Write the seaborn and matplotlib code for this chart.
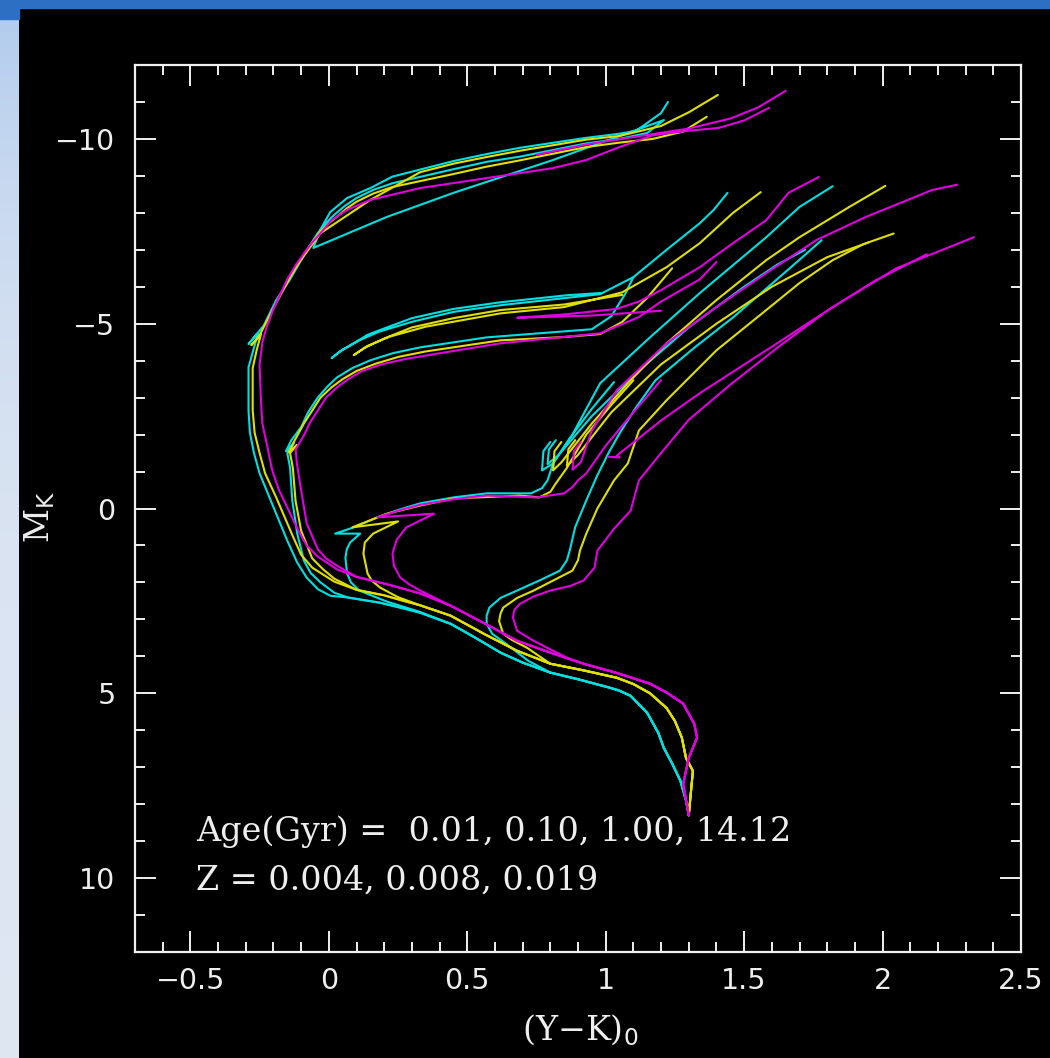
import numpy as np
import pandas as pd
import matplotlib
matplotlib.use("Agg")
import matplotlib.pyplot as plt
import matplotlib.ticker as mticker
from matplotlib.patches import Rectangle
import seaborn as sns

nan = np.nan

METALS = ["0.004", "0.008", "0.019"]
LINE_COLORS = ["#00e0e0", "#e0e000", "#e000e0"]
AGE_TEXT = "Age(Gyr) =  0.01, 0.10, 1.00, 14.12"
Z_TEXT = "Z = 0.004, 0.008, 0.019"

# ---- lower main sequence, common to every age ----
MS_YK_Z004 = [1.30, 1.29, 1.27, 1.24, 1.21, 1.19, 1.15, 1.09, 1.05, 1.015, 0.90, 0.80]
MS_MK_Z004 = [8.30, 7.90, 7.37, 6.90, 6.48, 6.07, 5.53, 5.07, 4.93, 4.85, 4.62, 4.44]
MS_YK_Z008 = [1.30, 1.315, 1.29, 1.275, 1.25, 1.22, 1.16, 1.10, 1.04, 0.92, 0.80]
MS_MK_Z008 = [8.30, 7.10, 6.75, 6.20, 5.75, 5.40, 5.00, 4.75, 4.58, 4.38, 4.20]
MS_YK_Z019 = [1.30, 1.28, 1.30, 1.33, 1.32, 1.28, 1.22, 1.16, 1.04, 0.92]
MS_MK_Z019 = [8.30, 7.45, 6.75, 6.20, 5.83, 5.28, 4.98, 4.74, 4.45, 4.20]

# ---- upper main sequence for the three younger ages ----
MSU_YK_Z004 = [0.70, 0.62, 0.53, 0.44]
MSU_MK_Z004 = [4.17, 3.90, 3.50, 3.12]
MSU_YK_Z008 = [0.68, 0.56, 0.44]
MSU_MK_Z008 = [3.85, 3.39, 2.90]
MSU_YK_Z019 = [0.80, 0.68, 0.56, 0.44]
MSU_MK_Z019 = [3.90, 3.58, 3.10, 2.63]

# ---- 0.01 Gyr ----
YK_A001_Z004 = [0.38, 0.33, 0.26, 0.185, 0.12, 0.07, 0.005, -0.04, -0.08, -0.115, -0.15, -0.21, -0.25, -0.27, -0.285,
                -0.29, -0.29, -0.27, -0.255, -0.29, -0.265, -0.235, -0.19, -0.14, -0.10, -0.07, -0.04, -0.01, 0.02,
                0.06, 0.10, 0.16, 0.23, 0.45, 0.57, 0.69, 0.93, 1.05, 1.15, 1.21,
                0.81, 0.45, 0.21, -0.056, -0.03, 0.005, 0.066, 0.15, 0.23, 0.45, 0.57, 0.69, 0.93, 1.05,
                1.11, 1.20, 1.225]
MK_A001_Z004 = [2.96, 2.82, 2.68, 2.55, 2.47, 2.41, 2.36, 2.18, 1.87, 1.45, 0.87, -0.22, -0.95, -1.49, -2.05,
                -2.66, -3.82, -4.36, -4.75, -4.45, -4.68, -4.95, -5.64, -6.20, -6.72, -7.10, -7.45, -7.72, -7.95,
                -8.20, -8.40, -8.62, -8.80, -9.18, -9.38, -9.52, -9.88, -10.00, -10.16, -10.51,
                -9.43, -8.54, -7.89, -7.05, -7.55, -8.02, -8.40, -8.67, -8.98, -9.40, -9.59, -9.76, -10.03, -10.14,
                -10.22, -10.70, -11.00]
YK_A001_Z008 = [0.33, 0.26, 0.20, 0.10, 0.02, -0.06, -0.10, -0.13, -0.19, -0.23, -0.25, -0.268, -0.275, -0.275,
                -0.26, -0.245, -0.28, -0.255, -0.23, -0.18, -0.14, -0.10, -0.065, -0.03, 0.00, 0.03, 0.065, 0.10,
                0.16, 0.23, 0.45, 0.57, 0.69, 0.93, 1.05, 1.17, 1.28, 1.365, nan,
                1.405, 1.30, 1.20, 1.05, 0.93, 0.69, 0.57, 0.45, 0.33, 0.15, -0.03, -0.114]
MK_A001_Z008 = [2.62, 2.48, 2.35, 2.20, 1.98, 1.60, 1.25, 0.75, -0.30, -0.95, -1.50, -2.05, -2.66, -3.80,
                -4.30, -4.72, -4.42, -4.62, -4.98, -5.70, -6.25, -6.75, -7.15, -7.50, -7.72, -7.90, -8.12, -8.30,
                -8.52, -8.70, -9.05, -9.25, -9.42, -9.78, -9.90, -10.00, -10.20, -10.60, nan,
                -11.19, -10.72, -10.35, -10.08, -9.98, -9.68, -9.51, -9.33, -9.10, -8.35, -7.45, -6.59]
YK_A001_Z019 = [0.33, 0.27, 0.21, 0.10, 0.03, -0.04, -0.08, -0.11, -0.18, -0.205, -0.22, -0.24, -0.245, -0.25,
                -0.24, -0.225, -0.20, -0.15, -0.12, -0.09, -0.06, -0.03, 0.01, 0.066, 0.15, 0.33, 0.57, 0.81,
                0.93, 1.05, 1.17, 1.30, 1.41, 1.50, 1.59, nan,
                0.75, 0.93, 1.10, 1.30, 1.45, 1.55, 1.65]
MK_A001_Z019 = [2.30, 2.17, 2.05, 1.85, 1.65, 1.30, 1.00, 0.60, -0.50, -1.05, -1.60, -2.30, -2.90, -3.90,
                -4.50, -4.90, -5.40, -6.20, -6.58, -6.90, -7.20, -7.45, -7.80, -8.08, -8.35, -8.67, -8.94, -9.21,
                -9.43, -9.78, -10.10, -10.22, -10.30, -10.50, -10.84, nan,
                -9.57, -9.85, -10.05, -10.28, -10.55, -10.85, -11.30]

# ---- 0.10 Gyr ----
YK_A010_Z004 = [0.33, 0.185, 0.07, 0.02, -0.03, -0.065, -0.09, -0.114, -0.132, -0.14, -0.15, -0.125, -0.155,
                -0.135, -0.10, -0.075, -0.04, -0.005, 0.03, 0.085, 0.15, 0.23, 0.33, 0.57, 0.81, 0.95, 1.02, 1.07,
                1.10, nan,
                0.98, 0.86, 0.62, 0.45, 0.30, 0.21, 0.14, 0.09, 0.04, 0.01, 0.05, 0.11, 0.18, 0.30, 0.45, 0.62,
                0.86, 0.98, 1.10, 1.22, 1.34, 1.39, 1.44]
MK_A010_Z004 = [2.82, 2.55, 2.41, 2.28, 2.00, 1.75, 1.41, 0.68, -0.22, -1.11, -1.50, -1.78, -1.55,
                -1.85, -2.20, -2.60, -3.00, -3.30, -3.55, -3.80, -4.01, -4.20, -4.36, -4.63, -4.77, -4.85, -5.20, -5.80,
                -6.26, nan,
                -5.83, -5.77, -5.58, -5.40, -5.15, -4.90, -4.70, -4.47, -4.25, -4.07, -4.30, -4.55, -4.78, -5.05, -5.32, -5.50,
                -5.70, -5.80, -6.26, -7.00, -7.72, -8.08, -8.54]
YK_A010_Z008 = [0.33, 0.20, 0.10, 0.02, -0.02, -0.06, -0.10, -0.12, -0.13, -0.14, -0.115, -0.145, -0.125,
                -0.09, -0.06, -0.03, 0.01, 0.05, 0.10, 0.17, 0.25, 0.35, 0.62, 0.85, 0.98, 1.06, 1.15, 1.24, nan,
                1.06, 0.85, 0.62, 0.45, 0.30, 0.20, 0.13, 0.09, 0.14, 0.22, 0.35, 0.62, 0.85, 1.06, 1.22, 1.34,
                1.46, 1.56]
MK_A010_Z008 = [2.62, 2.35, 2.20, 1.90, 1.65, 1.35, 0.60, -0.20, -1.10, -1.50, -1.72, -1.52, -1.82,
                -2.30, -2.65, -3.00, -3.28, -3.50, -3.72, -3.92, -4.10, -4.25, -4.55, -4.64, -4.72, -5.05, -5.70, -6.50, nan,
                -5.78, -5.52, -5.37, -5.15, -4.90, -4.60, -4.35, -4.15, -4.40, -4.65, -4.92, -5.28, -5.45, -5.85, -6.53, -7.18,
                -8.00, -8.56]
YK_A010_Z019 = [0.33, 0.21, 0.10, 0.03, -0.01, -0.04, -0.08, -0.10, -0.115, -0.12, -0.10, -0.085, -0.07, -0.04,
                -0.01, 0.03, 0.07, 0.12, 0.19, 0.28, 0.40, 0.62, 0.98, 1.12, 1.20, 1.34, 1.40, nan,
                1.20, 0.95, 0.68, 0.85, 1.04, 1.12, 1.20, 1.34, 1.46, 1.58, 1.66, 1.77]
MK_A010_Z019 = [2.30, 2.05, 1.85, 1.55, 1.35, 1.10, 0.40, -0.50, -1.20, -1.60, -1.85, -2.05, -2.30, -2.65,
                -3.00, -3.28, -3.50, -3.72, -3.90, -4.05, -4.20, -4.47, -4.74, -5.18, -5.60, -6.20, -6.67, nan,
                -5.35, -5.22, -5.16, -5.25, -5.40, -5.60, -5.91, -6.53, -7.18, -7.80, -8.54, -8.97]

# ---- 1.00 Gyr ----
YK_A100_Z004 = [0.33, 0.21, 0.11, 0.08, 0.066, 0.06, 0.065, 0.077, 0.113, 0.023, 0.09, 0.175, 0.25, 0.33, 0.45,
                0.57, 0.73, 0.77, 0.79, 0.81, 0.87, 0.95, 1.03, nan,
                0.80, 0.775, 0.77, 0.81, 0.88, 0.98, 1.16, 1.34, 1.58, 1.70, 1.82]
MK_A100_Z004 = [2.80, 2.52, 2.22, 2.00, 1.76, 1.33, 1.10, 0.92, 0.68, 0.68, 0.51, 0.24, 0.04, -0.14, -0.30,
                -0.41, -0.41, -0.55, -0.76, -1.22, -1.90, -2.70, -3.42, nan,
                -1.80, -1.55, -1.03, -1.22, -2.00, -3.39, -4.63, -5.83, -7.34, -8.16, -8.72]
YK_A100_Z008 = [0.33, 0.25, 0.185, 0.155, 0.14, 0.125, 0.13, 0.16, 0.25, 0.085, 0.21, 0.33, 0.45, 0.69, 0.76,
                0.80, 0.82, 0.86, 0.93, 1.02, 1.10, nan,
                0.84, 0.815, 0.81, 0.84, 0.95, 1.08, 1.22, 1.40, 1.58, 1.70, 1.88, 2.01]
MK_A100_Z008 = [2.62, 2.40, 2.14, 1.95, 1.76, 1.22, 0.92, 0.68, 0.35, 0.51, 0.14, -0.08, -0.27, -0.35, -0.30,
                -0.45, -0.68, -1.10, -2.00, -2.80, -3.47, nan,
                -1.80, -1.55, -1.03, -1.25, -2.30, -3.39, -4.47, -5.64, -6.72, -7.34, -8.16, -8.73]
YK_A100_Z019 = [0.33, 0.29, 0.258, 0.235, 0.23, 0.245, 0.28, 0.38, 0.175, 0.25, 0.33, 0.45, 0.57, 0.75, 0.85,
                0.88, 0.90, 0.93, 1.00, 1.10, 1.20, nan,
                0.91, 0.885, 0.88, 0.91, 0.95, 1.04, 1.22, 1.40, 1.58, 1.76, 1.94, 2.18, 2.27]
MK_A100_Z019 = [2.22, 2.05, 1.87, 1.55, 1.22, 0.85, 0.51, 0.14, 0.24, 0.06, -0.10, -0.25, -0.35, -0.30, -0.41,
                -0.58, -0.76, -0.95, -1.70, -2.60, -3.47, nan,
                -1.80, -1.55, -1.05, -1.25, -2.11, -3.20, -4.47, -5.45, -6.37, -7.26, -7.89, -8.62, -8.76]

# ---- 14.12 Gyr (branches off the lower main sequence) ----
YK_A1412_Z004 = [0.72, 0.64, 0.59, 0.57, 0.57, 0.58, 0.62, 0.68, 0.76, 0.835, 0.86, 0.87, 0.89, 0.93, 0.97, 1.01,
                 1.05, 1.11, 1.18, 1.32, 1.46, 1.58, 1.68, 1.78, nan,
                 0.82, 0.795, 0.79, 0.83, 0.95, 1.10, 1.30, 1.50, 1.62, 1.72]
MK_A1412_Z004 = [4.12, 3.66, 3.39, 3.12, 2.90, 2.68, 2.42, 2.22, 1.95, 1.68, 1.40, 1.14, 0.50, -0.22, -0.90, -1.50,
                 -2.03, -2.74, -3.47, -4.35, -5.17, -5.95, -6.60, -7.26, nan,
                 -1.85, -1.60, -1.20, -1.45, -2.50, -3.60, -4.90, -6.00, -6.60, -7.00]
YK_A1412_Z008 = [0.716, 0.66, 0.63, 0.615, 0.62, 0.63, 0.68, 0.74, 0.81, 0.88, 0.90, 0.907, 0.93, 0.97, 1.03, 1.08,
                 1.12, 1.22, 1.40, 1.58, 1.70, 1.82, 1.93, 2.04, nan,
                 0.89, 0.865, 0.86, 0.90, 1.02, 1.20, 1.40, 1.60, 1.80, 1.95]
MK_A1412_Z008 = [3.77, 3.55, 3.39, 3.05, 2.85, 2.68, 2.42, 2.22, 1.95, 1.68, 1.40, 1.14, 0.68, 0.00, -0.76, -1.22,
                 -2.11, -2.93, -4.28, -5.37, -6.10, -6.72, -7.15, -7.44, nan,
                 -1.85, -1.60, -1.15, -1.45, -2.60, -3.90, -5.00, -6.00, -6.80, -7.20]
YK_A1412_Z019 = [0.86, 0.74, 0.68, 0.665, 0.67, 0.69, 0.74, 0.80, 0.87, 0.92, 0.96, 0.97, 1.03, 1.09, 1.12, 1.20,
                 1.30, 1.45, 1.62, 1.80, 1.97, 2.16, nan,
                 1.01, 1.05, 1.04, 1.20, 1.34, 1.58, 1.82, 2.05, 2.33]
MK_A1412_Z019 = [4.04, 3.58, 3.31, 2.95, 2.75, 2.58, 2.38, 2.22, 2.10, 1.95, 1.60, 1.14, 0.55, 0.06, -0.76, -1.50,
                 -2.40, -3.35, -4.35, -5.35, -6.15, -6.88, nan,
                 -1.40, -1.38, -1.43, -2.38, -3.12, -4.28, -5.45, -6.50, -7.34]

ISOCHRONES = [
    ("0.01", 0, MS_YK_Z004 + MSU_YK_Z004 + YK_A001_Z004, MS_MK_Z004 + MSU_MK_Z004 + MK_A001_Z004),
    ("0.01", 1, MS_YK_Z008 + MSU_YK_Z008 + YK_A001_Z008, MS_MK_Z008 + MSU_MK_Z008 + MK_A001_Z008),
    ("0.01", 2, MS_YK_Z019 + MSU_YK_Z019 + YK_A001_Z019, MS_MK_Z019 + MSU_MK_Z019 + MK_A001_Z019),
    ("0.10", 0, MS_YK_Z004 + MSU_YK_Z004 + YK_A010_Z004, MS_MK_Z004 + MSU_MK_Z004 + MK_A010_Z004),
    ("0.10", 1, MS_YK_Z008 + MSU_YK_Z008 + YK_A010_Z008, MS_MK_Z008 + MSU_MK_Z008 + MK_A010_Z008),
    ("0.10", 2, MS_YK_Z019 + MSU_YK_Z019 + YK_A010_Z019, MS_MK_Z019 + MSU_MK_Z019 + MK_A010_Z019),
    ("1.00", 0, MS_YK_Z004 + MSU_YK_Z004 + YK_A100_Z004, MS_MK_Z004 + MSU_MK_Z004 + MK_A100_Z004),
    ("1.00", 1, MS_YK_Z008 + MSU_YK_Z008 + YK_A100_Z008, MS_MK_Z008 + MSU_MK_Z008 + MK_A100_Z008),
    ("1.00", 2, MS_YK_Z019 + MSU_YK_Z019 + YK_A100_Z019, MS_MK_Z019 + MSU_MK_Z019 + MK_A100_Z019),
    ("14.12", 0, MS_YK_Z004 + YK_A1412_Z004, MS_MK_Z004 + MK_A1412_Z004),
    ("14.12", 1, MS_YK_Z008 + YK_A1412_Z008, MS_MK_Z008 + MK_A1412_Z008),
    ("14.12", 2, MS_YK_Z019 + YK_A1412_Z019, MS_MK_Z019 + MK_A1412_Z019),
]

# long-form table: one row per point, a new "piece" wherever a NaN breaks the curve
rows = []
piece = 0
for age, zi, yk, mk in ISOCHRONES:
    for x, y in zip(yk, mk):
        if np.isnan(x):
            piece += 1
            continue
        rows.append({"age": age, "Z": METALS[zi], "piece": piece, "YK": x, "MK": y})
    piece += 1
df = pd.DataFrame(rows)

W, H = 1050, 1058
fig = plt.figure(figsize=(W / 100, H / 100), dpi=100, facecolor="black")

# slide frame: dark blue top bar and pale blue left strip
fig.patches.append(Rectangle((0, 1 - 8 / H), 1, 8 / H, transform=fig.transFigure,
                             color="#2d6fc3", zorder=0))
fig.patches.append(Rectangle((0, 1 - 19 / H), 19 / W, 19 / H, transform=fig.transFigure,
                             color="#2d6fc3", zorder=0))
strip = fig.add_axes([0, 0, 19 / W, 1 - 19 / H])
t = np.linspace(0, 1, 256)[:, None]
c_top = np.array([0.70, 0.80, 0.93])
c_bot = np.array([0.875, 0.905, 0.952])
mix = 1 - np.exp(-t / 0.25)
grad = (c_top[None, None, :] * (1 - mix[..., None]) + c_bot[None, None, :] * mix[..., None])
strip.imshow(grad, aspect="auto", extent=[0, 1, 0, 1])
strip.set_axis_off()

ax = fig.add_axes([135 / W, 1 - 952 / H, (1021 - 135) / W, (952 - 65) / H])
ax.set_facecolor("black")

sns.lineplot(data=df, x="YK", y="MK", hue="Z", hue_order=METALS, palette=LINE_COLORS,
             units="piece", estimator=None, sort=False, linewidth=1.5, legend=False, ax=ax)
for ln in ax.lines:
    ln.set_solid_joinstyle("round")
    ln.set_solid_capstyle("round")

ax.set_xlim(-0.7, 2.5)
ax.set_ylim(12, -12)

fmt = mticker.FuncFormatter(lambda v, p: f"{v:g}".replace("-", "\u2212"))
ax.xaxis.set_major_locator(mticker.MultipleLocator(0.5))
ax.xaxis.set_minor_locator(mticker.MultipleLocator(0.1))
ax.yaxis.set_major_locator(mticker.MultipleLocator(5))
ax.yaxis.set_minor_locator(mticker.MultipleLocator(1))
ax.xaxis.set_major_formatter(fmt)
ax.yaxis.set_major_formatter(fmt)

for s in ax.spines.values():
    s.set_color("#f0f0f0")
    s.set_linewidth(1.6)
ax.tick_params(which="both", direction="in", top=True, right=True, color="#f0f0f0", width=1.4)
ax.tick_params(which="major", length=15)
ax.tick_params(which="minor", length=7.5)
ax.tick_params(axis="x", which="major", pad=11, labelsize=20.5, labelcolor="#eeeeee")
ax.tick_params(axis="y", which="major", pad=14, labelsize=20.5, labelcolor="#eeeeee")

plt.rcParams["mathtext.fontset"] = "dejavuserif"
ax.set_xlabel("(Y\u2212K)$_0$", fontsize=24, color="#eeeeee", family="DejaVu Serif")
ax.set_ylabel("M$_\\mathrm{K}$", fontsize=24, color="#eeeeee", family="DejaVu Serif")
ax.xaxis.set_label_coords((580 - 135) / 886, (952 - 1030) / 887)
ax.xaxis.label.set_va("center")
ax.yaxis.set_label_coords((40 - 135) / 886, (952 - 517) / 887)
ax.yaxis.label.set_va("center")

ax.text(-0.478, 9.0, AGE_TEXT, fontsize=24, color="#eeeeee", family="DejaVu Serif", va="baseline")
ax.text(-0.478, 10.3, Z_TEXT, fontsize=24, color="#eeeeee", family="DejaVu Serif", va="baseline")

fig.savefig("out.png", dpi=100, facecolor="black")
